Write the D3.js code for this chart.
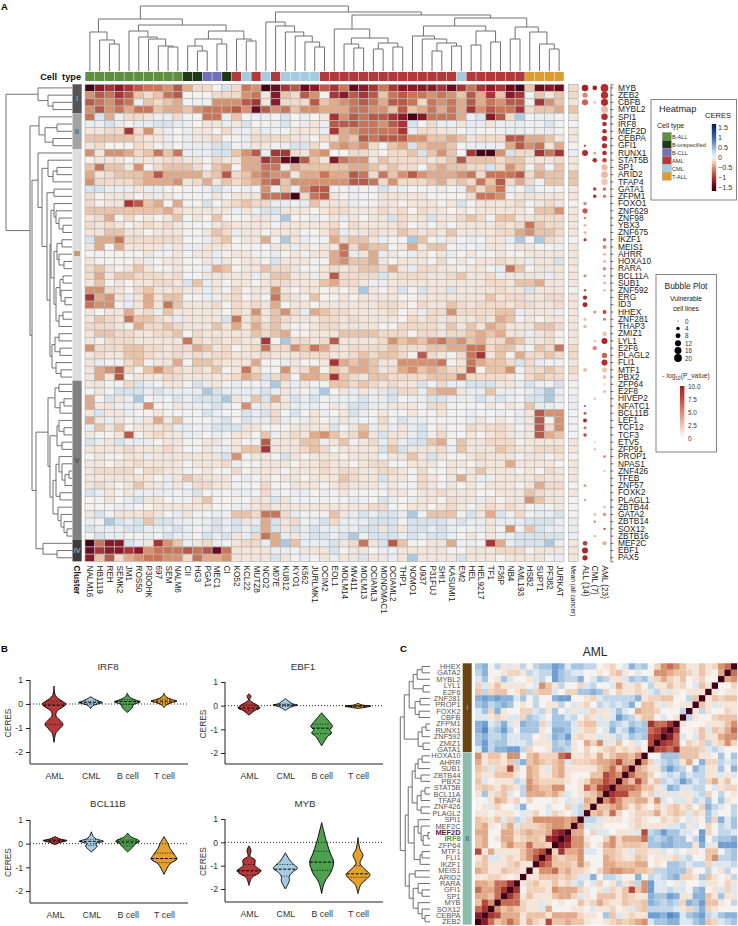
<!DOCTYPE html>
<html><head><meta charset="utf-8">
<script src="https://cdn.jsdelivr.net/npm/d3@7/dist/d3.min.js"></script>
<style>
html,body{margin:0;padding:0;background:#fff}
svg{display:block;font-family:"Liberation Sans",Arial,sans-serif;opacity:.999}
</style></head><body><div id="chart"></div>
<script>
// ---------- DATA ----------
const genes = ["MYB","ZEB2","CBFB","MYBL2","SPI1","IRF8","MEF2D","CEBPA","GFI1","RUNX1","STAT5B","SP1","ARID2","TFAP4","GATA1","ZFPM1","FOXO1","ZNF629","ZNF98","YBX3","ZNF675","IKZF1","MEIS1","AHRR","HOXA10","RARA","BCL11A","SUB1","ZNF592","ERG","ID3","HHEX","ZNF281","THAP3","ZMIZ1","LYL1","E2F6","PLAGL2","FLI1","MTF1","PBX2","ZFP64","E2F8","HIVEP2","NFATC1","BCL11B","LEF1","TCF12","TCF3","ETV5","ZFP91","PROP1","NPAS1","ZNF426","TFEB","ZNF57","FOXK2","PLAGL1","ZBTB44","GATA2","ZBTB14","SOX12","ZBTB16","MEF2C","EBF1","PAX5"];
const cellLines = ["NALM16","HB1119","REH","SEMK2","JM1","ROS50","P30OHK","697","SEM","NALM6","CII","HG3","PGA1","MEC1","CI","KO52","KCL22","MUTZ8","NCO2","M07E","KU812","KYO1","K562","JURLMK1","OCIM2","EOL1","MOLM14","MV411","MOLM13","OCIAML3","MONOMAC1","OCIAML2","THP1","NOMO1","U937","P31FUJ","SHI1","KASUMI1","EM2","HEL","HEL9217","TF1","F36P","NB4","AML193","HSB2","SUPT1","PF382","JURKAT"];
const cellLineTypes = ["B-ALL","B-ALL","B-ALL","B-ALL","B-ALL","B-ALL","B-ALL","B-ALL","B-ALL","B-ALL","B-unspecified","B-unspecified","B-CLL","B-CLL","B-unspecified","AML","CML","AML","CML","AML","CML","CML","CML","CML","AML","AML","AML","AML","AML","AML","AML","AML","AML","AML","AML","AML","AML","AML","CML","AML","AML","AML","AML","AML","AML","T-ALL","T-ALL","T-ALL","T-ALL"];
const typeNames = ["B-ALL","B-unspecified","B-CLL","AML","CML","T-ALL"];
const typeColors = ["#5f8f40","#1f3a16","#7370b8","#b03a3c","#a5cbe0","#dc9c2e"];
// CERES per cell, one letter per cell line: see ceresCodes / ceresValues
const ceresCodes  = ["0","1","2","3","4","5","6","7","8","9","x","y","a","b","c","d","e"];
const ceresValues = [0,-0.1,-0.2,-0.3,-0.4,-0.5,-0.65,-0.8,-1,-1.2,-1.35,-1.55,0.03,0.1,0.2,0.4,0.6];
const ceresRows = [
"y9898 76657 4220c 265yx 87x97 86x98 68999 98x86 898xy 3x9x",
"57687 32367 00022 25619 32750 89787 36766 56537 48398 a313",
"76576 b3234 aaa55 57819 22273 45676 47762 65647 46577 0853",
"57564 66344 35666 75x75 63554 44665 53734 64648 57668 2334",
"6c4b2 21bb2 a066b 30bb0 c0b01 85767 789y9 6664b c972d abba",
"bbcb0 bbccb b011b 1c0ab cab1b 77766 578ca 2bb1b b1bbb aaca",
"11228 251b0 b1102 bb1ba a111b 84566 668b2 2110b 00abb abba",
"33333 211b0 b1120 0b222 21102 24376 77755 33431 22277 4431",
"12a00 21ab0 bbbcc ab11a bcc2a 45452 a34c3 443ab bbb47 5614",
"51554 23636 bbbcc 357b8 82145 00221 0223c 35308 yy5c2 2868",
"01110 11122 11021 14487 xy731 96551 32222 12373 33233 1112",
"36331 50233 32034 04466 14333 33443 2322a 34332 2c253 a3a3",
"41233 34744 44237 23565 51446 44762 63575 44456 26667 2433",
"52222 34445 12413 23467 35555 55776 25222 34232 63724 2a33",
"ccbbb 1bba0 aabcb aba5b 3b577 aab0a cbbaa ab0b4 246ba caaa",
"20111 01b1a aaa1a 11166 7y267 10ba0 11111 00002 66501 1111",
"20118 734a4 00c01 2322b bab31 11baa 11011 101c0 11112 a121",
"33333 33342 11111 b1bcc 11101 22111 21202 11010 11111 a335",
"12402 01013 a103a 0a11b d00ba 1b101 1c211 c1123 2a331 1222",
"2121a 12121 aaa12 1111a 11111 20211 11201 01011 11212 6322",
"11331 10111 a0132 b11a1 11001 3b112 11321 21311 11224 5332",
"c4462 22222 aab23 a114a d1baa 42331 baad3 ab1ab a11bd ad21",
"14041 111b1 bb111 0a0a1 1b1a1 16243 3a141 33aba b11a1 1aab",
"00000 01aa1 a11b0 11aab 01a11 46b14 b10b1 01b01 a01a0 1111",
"10000 1b011 001b1 011ac 111aa 45334 10111 02a1a 11211 b11c",
"23101 31001 00b43 01132 21001 21233 241b2 211a1 1ab63 0111",
"24133 22212 aa111 11b13 311b1 72222 c1222 11231 12b11 11b1",
"13010 11221 c3b1a 11012 21113 4221b b1111 11111 12213 3411",
"55210 23112 11b1a 20115 10110 101d1 01c0c 11c11 11211 c111",
"8451b 14133 00bb1 20106 21030 01011 11001 11111 13122 1122",
"6550b 14163 11120 21214 01101 11111 22102 11321 22212 2112",
"10114 12b31 11110 21513 52b43 22111 1201b 22522 2233b 111b",
"13216 3321b 1111c 61313 21112 21211 11021 21211 2143a 1011",
"22210 42232 11131 41423 10012 21111 00222 21313 14311 1332",
"13322 11223 02111 11323 40011 13333 22202 21223 43411 b120",
"10222 11111 62121 21180 d2212 71111 25343 56453 42243 1120",
"52223 32212 24312 01262 25364 21222 23222 33446 62331 a326",
"12113 32112 12122 11121 11222 11232 33207 21a26 81304 2232",
"1b002 30114 03321 11400 b1001 84343 11555 56a16 4332c 2baa",
"14572 03532 12130 16200 51240 32443 12453 43227 0335a 2232",
"14170 11122 11111 243c2 30443 83213 32222 33362 22210 2322",
"11aa2 cba11 acb1a baabd 1b1aa 33232 1211c a2bbc cc11b cbac",
"a10cc cbcbb bbdcb bbbcb 1b0bd 01b1b 1c22b 3441b b3bb0 bcdb",
"40c1b d0bac bcccd 1b3c4 1cbca bbbcb bcabb ccbbb cbcba ccdb",
"411bb b50a1 bbbcb 05b11 1bbba 1bccb b111a 22a0a a1a10 3bba",
"1c11b a01aa 0acba 0cbc2 aca1b 01cba 1aa1a a1aab aabab 1755",
"41b10 b1413 aa0bc 0cbb2 bab1a b1baa 2acbb aaaab 1a1ab 1705",
"b3130 1112b babcc c1100 01111 c013b 1b1bc 01a02 1221a 1725",
"10017 01211 bb0ba 1103b 12145 31241 c11bc a2aa1 0121b 1743",
"cb1cb bb011 aa11a 10a71 1133b 13a12 b2bcc 34a31 1222a 1111",
"11112 11121 aa1bb 13381 11232 a1111 c3c11 12b31 11321 1222",
"01a01 1b111 1111c 5a11a c1011 10111 a1131 c1001 21110 1101",
"11011 21111 01112 b0a11 10112 11012 2a011 10110 11141 1110",
"12222 02211 a010a 2a111 a1112 12211 221a2 00101 31110 1021",
"11111 11ab1 32111 aba10 11011 13211 c11a2 10141 bb111 1211",
"12101 311b1 a2211 aaa2a 0111a 12111 b1aa2 1a101 a111a 1422",
"cb101 bbbba bcaaa bba2b abb0b a1aaa a1101 12111 00111 3211",
"0010b c110a a13a0 a011c 1aaaa aaba0 cb0b1 10211 b1011 5311",
"000bb 00111 1110a bb121 11111 11112 2a011 0121a 12121 0ba1",
"1c011 121ab 1aaba 33266 2baaa 31bcb ccbda 3330c 14ca2 abbc",
"b0dcb c3ccb babcb c1b4c 12abc 2bbbc ccacc ccbcb b1bbb cccb",
"cbbbc cbbbc babcb cbc4c 1cbcb bbbcc 1c1cc bcbaa b1a5a 3cbb",
"0cbba abacb bacbc 1b264 b1bcc bcdbc ccbcb ccba1 a1bbc cccc",
"y699c b1853 b12ba 122b4 d3bbb c1261 c73a0 114ab a84bc ccdb",
"x8998 95666 767x6 1111b ba111 c0110 bb111 11001 11222 a111",
"93724 56655 26445 1111c 1aba1 b11c1 1b1d1 111c1 11a11 11ab"
].map(s => s.replace(/ /g,""));
const meanCeres = "221310 11ab11 3311 01111 a1111 11a11 11111 22121 aabba aaa11 01 11a 1aaab bb111".replace(/ /g,"");
const clusterNames = ["I","II","III","V","IV"];
const clusterFirstRow = [0,4,9,41,63];
const clusterLastRow = [3,8,40,62,65];
const clusterColors = ["#555555","#a3a3a3","#dedede","#808080","#3c3c3c"];
const clusterTextColors = ["#ccc","#333","#333","#333","#ccc"];
// bubble plot: [gene, vulnerable cell lines, -log10 p]
const bubblesALL = [["MYB",14,10],["ZEB2",9,5],["CBFB",12,6.5],["GFI1",2,6.5],["RUNX1",12,9],["FOXO1",4,5],["ZNF629",9,7],["ZNF98",2,5],["YBX3",3,3],["ZNF675",3,3],["IKZF1",3,9],["BCL11A",3,5],["ZNF592",2,7],["ERG",6,9.5],["ID3",8,9.5],["ZNF281",3,3],["THAP3",4,3],["MTF1",5,3],["NFATC1",1.5,7],["BCL11B",3,6.5],["LEF1",5,9.5],["TCF12",3,6],["TCF3",4,7.5],["NPAS1",0.2,3],["TFEB",0.15,2],["ZNF57",3,4],["PLAGL1",1.6,4.5],["MEF2C",7,8],["EBF1",12,9.5],["PAX5",9,9.5]];
const bubblesCML = [["MYB",7,10],["CBFB",3,2.5],["RUNX1",3,4],["STAT5B",7,9],["GATA1",4,8],["ZFPM1",4,9],["ZNF592",0.3,2],["HHEX",2.5,5],["LYL1",2,3],["E2F6",6,5],["HIVEP2",1.8,2.5],["ETV5",1.3,2.5],["ZFP91",1.3,4],["GATA2",2.2,3],["ZBTB14",1.6,6],["ZBTB16",1.6,4]];
const bubblesAML = [["MYB",20,9],["ZEB2",17,9],["CBFB",17,9],["MYBL2",17,3],["SPI1",14,9],["IRF8",7,9],["MEF2D",7,9],["CEBPA",10,9],["GFI1",9,9],["RUNX1",7,9],["STAT5B",7,7.5],["SP1",13,3],["ARID2",15,3],["TFAP4",14,2.5],["GATA1",4,6],["ZFPM1",4,5.5],["IKZF1",4,6.5],["MEIS1",5,5],["AHRR",3,3],["HOXA10",3,3],["RARA",4,5],["BCL11A",1.5,6],["SUB1",3,3],["ZNF592",2,3],["HHEX",5,8],["ZNF281",3,5.5],["ZMIZ1",7,2.5],["LYL1",12,9.5],["PLAGL2",9,6.5],["FLI1",12,9],["MTF1",9,2.5],["PBX2",5,2.8],["ZFP64",1.5,2.5],["E2F8",3,3],["PROP1",2,6],["ZNF426",2,2.5],["FOXK2",0.2,3],["ZBTB44",1.6,4],["GATA2",4,4.5],["SOX12",2,7],["MEF2C",6,3.5]];
const sizeLegendValues = [0,4,8,12,16,20];
const ceresLegendTicks = [1.5,1,0.5,0,-0.5,-1,-1.5];
const pLegendTicks = [10,7.5,5,2.5,0];
// dendrograms: [height, left, right]; a plain number is a leaf index
const colTree = [65,[52,[39,0,[31,1,[27,2,3]]],[46,[40,4,[34,5,[32,6,[25,7,[24,8,9]]]]],[40,[32,[25,10,[20,11,12]],[27,13,14]],[32,15,[30,16,17]]]]],
 [59,[49,18,[45,19,[39,20,[35,21,[29,22,[24,23,24]]]]]],
  [56,[42,25,[33,[27,26,[23,27,28]],[28,[22,29,30],[24,31,32]]]],
   [53,[45,[35,33,[32,34,[28,[20,35,36],[25,37,38]]]],[40,[26,39,40],[29,41,42]]],[44,[32,43,44],[39,45,[27,46,[22,47,48]]]]]]]];
const rowClusterI = [34,0,[24,1,[19,2,3]]];
const rowClusterII = [33,4,[27,[15,5,6],[19,7,8]]];
const rowClusterIII = [34,9,[30,[24,10,[19,[15,11,12],13]],[25,[18,14,15],[22,[21,[18,16,[16,17,[13,18,[9,19,20]]]],[18,[15,[10,21,22],[13,23,[8,24,25]]],[16,[12,[9,26,27],[11,28,[7,29,30]]],[13,[9,31,32],33]]]],[20,[17,[13,34,35],[12,36,37]],[16,38,[11,39,40]]]]]]];
const rowClusterV = [24,[17,[13,41,42],[12,[8,43,44],45]],[22,[15,[13,46,[8,47,48]],[10,49,50]],[19,[16,[13,51,[10,52,[7,[3,53,54],55]]],[12,56,57]],[14,58,[11,59,[8,60,[5,61,62]]]]]]];
const rowClusterIV = [29,63,[15,64,65]];
const rowTree = [66,rowClusterI,[42,rowClusterII,[40,rowClusterIII,[36,rowClusterV,rowClusterIV]]]];
// panel B
const violinCats = ["AML","CML","B cell","T cell"];
const violinColors = ["#b5393b","#a6cbe0","#4ea04f","#e4a12b"];
const violinTitles = ["IRF8","EBF1","BCL11B","MYB"];
const irf8Shapes = [
 [[.75,0],[.35,1.5],[.12,8],[0,12],[-.12,9],[-.3,3],[-.5,2],[-.68,6],[-.85,9],[-1.02,6],[-1.2,2],[-1.6,0]],
 [[.3,0],[.2,4],[.12,8],[.06,12],[0,7],[-.08,2],[-.2,0]],
 [[.45,0],[.3,2],[.17,8],[.09,13],[-.03,6],[-.15,5],[-.35,0]],
 [[.45,0],[.3,2],[.2,7],[.12,13],[.05,7],[-.05,2],[-.15,0]]];
const ebf1Shapes = [
 [[.5,0],[.4,2],[.25,.6],[.15,3],[0,9],[-.1,11],[-.2,6],[-.4,0]],
 [[.3,0],[.2,3],[.08,7],[.03,12],[-.05,6],[-.2,0]],
 [[-.3,0],[-.5,4],[-.7,8],[-.88,11],[-1.02,8],[-1.15,10],[-1.3,6],[-1.7,0]],
 [[.1,0],[.03,4],[-.02,13],[-.05,10],[-.12,0]]];
const bcl11bShapes = [
 [[.3,0],[.2,5],[.13,12],[.05,5],[-.05,0]],
 [[.5,0],[.3,2],[.2,5],[.1,12],[0,4],[-.1,6],[-.2,4],[-.35,0]],
 [[.45,0],[.3,3],[.1,12],[0,8],[-.1,6],[-.35,0]],
 [[.3,0],[0,4],[-.2,6],[-.5,11],[-.65,13],[-.85,6],[-1.3,0]]];
const mybShapes = [
 [[-.15,0],[-.35,2],[-.6,1],[-.75,6],[-1,6],[-1.22,12],[-1.35,9],[-1.5,3],[-1.85,0]],
 [[-.45,0],[-.8,5],[-1.12,12],[-1.25,8],[-1.45,4],[-1.65,4],[-2,0]],
 [[.85,0],[.5,2],[0,5],[-.5,9],[-.85,12],[-1.3,9],[-1.7,3],[-2.2,0]],
 [[.2,0],[-.3,2],[-.55,5],[-.9,2],[-1.2,8],[-1.38,12],[-1.6,8],[-1.8,3],[-2.2,0]]];
const violinShapes = [irf8Shapes,ebf1Shapes,bcl11bShapes,mybShapes];
const violinQuartiles = [
 [[.12,-.05,-.85],[.12,.07,0],[.17,.1,-.02],[.2,.12,.05]],
 [[.03,-.1,-.2],[.07,.03,-.02],[-.78,-.95,-1.18],[0,-.02,-.05]],
 [[.17,.12,.07],[.18,.1,-.07],[.15,.07,-.1],[-.4,-.63,-.8]],
 [[-.95,-1.22,-1.4],[-.95,-1.15,-1.45],[-.38,-.85,-1.2],[-1,-1.35,-1.5]]];
// panel C
const corrGenes = ["HHEX","GATA2","MYBL2","LYL1","E2F6","ZNF281","PROP1","FOXK2","CBFB","ZFPM1","RUNX1","ZNF592","ZMIZ1","GATA1","HOXA10","AHRR","SUB1","ZBTB44","PBX2","STAT5B","BCL11A","TFAP4","ZNF426","PLAGL2","SPI1","MEF2C","MEF2D","IRF8","ZFP64","MTF1","FLI1","IKZF1","MEIS1","ARID2","RARA","GFI1","SP1","MYB","SOX12","CEBPA","ZEB2"];
const corrCodes  = ["0","1","2","3","4","5","6","7","8","9","a","b","c","d","e","f"];
const corrValues = [0,.1,.2,.3,.4,.5,.6,.7,.8,.92,-.1,-.2,-.3,-.4,-.5,-.6];
const corrTriangle = [
"cd0b1 a1b0b cceda ccbb0 120ad bc025 65311 31256",
"bd001 221ba bbecb aa001 02310 a0055 43321 3104",
"ac01c a001a b0ecb bd0ac b11ac bca24 21301 200",
"2a131 1110a 531b0 02ab0 0a411 20b11 3120a 31",
"3b233 013b2 33a02 2ccdc 20211 21ab1 a1011 1",
"deded dac0b 00dee 0012a bbbbb d1223 300b3",
"cdbcd c010b 011b0 a120b ababd 0331a 1011",
"ac2d1 0022a b1c0a 1aa21 1aca0 43320 00b",
"aa121 aa2cb a0cca b021a 1aecb 1330a 01",
"deabd a1dcc 2accc a233a acbac bc866 8",
"dfbce b0ccc 10ddc a1220 adabe cc679",
"cdbbc aabb0 1adce 1211a 1abac bc78",
"cebcc aaab1 11cbc 10425 a1301 a07",
"aebdd eeb20 01ccb 10201 23121 20",
"51331 55034 22267 11214 13443 5",
"41221 3bd34 3234a 22234 45744",
"32a22 72043 1a341 11113 4636",
"21133 31043 11341 00033 765",
"3a011 1ba53 22221 01255 76",
"23213 21b54 33550 01647 8",
"1c123 a0b44 4342a 01235",
"00143 12020 0010a 1a43",
"01a20 0ad00 0a002 ab3",
"11011 10a12 0a210 ab",
"3213a 2ba25 55554 5",
"34102 4a222 34554",
"44004 42343 3489",
"34014 41233 289",
"34003 53363 32",
"71411 11356 7",
"13aa1 21357",
"23111 23116",
"43113 221",
"11221 01",
"44366 8",
"64468",
"4436",
"375",
"68",
"9",
""
].map(s => s.replace(/ /g,""));
const corrClusterEnd = 13;
const corrClusterNames = ["I","II"];
const corrClusterColors = ["#6b4412","#8bbeaa"];
const corrTree = [30,[26,[21,[17,[13,[8,0,1],2],[7,3,4]],[15,[10,5,6],[11,7,8]]],[12,[8,[4,9,10],11],[7,12,13]]],
 [25,[22,[18,[15,[12,[8,14,15],16],[9,17,18]],[13,[9,[5,19,20],21],[9,22,23]]],[16,[12,24,[9,25,[7,[2,26,27],28]]],[10,[8,29,30],31]]],[21,[15,32,33],[17,[12,34,[8,35,36]],[12,37,[8,38,[5,39,40]]]]]]];

// ---------- DRAWING ----------
const W=738,H=926,FONT='"Liberation Sans",Arial,sans-serif';
const svg=d3.select("#chart").append("svg").attr("width",W).attr("height",H).attr("viewBox",[0,0,W,H]);
const txt=(g,x,y,s,size,opt={})=>{const t=g.append("text").attr("x",x).attr("y",y).attr("font-size",size).attr("fill",opt.fill||"#222")
  .attr("text-anchor",opt.anchor||"start").attr("font-weight",opt.weight||"normal").text(s);
  if(opt.baseline)t.attr("dominant-baseline",opt.baseline);
  if(opt.rotate!==undefined)t.attr("transform",`rotate(${opt.rotate} ${x} ${y})`);return t;};

const heatX=d3.scaleBand().domain(cellLines).range([85,564]).paddingInner(0);
const heatY=d3.scaleBand().domain(genes).range([84.3,561.4]);
const ceresOf=c=>{const i=ceresCodes.indexOf(c);return i<0?0:ceresValues[i];};
const ceresColor=d3.scaleLinear()
 .domain([-1.6,-1.35,-1.2,-1,-.8,-.65,-.5,-.4,-.3,-.2,-.1,-.02,.03,.1,.2,.4,.6,1,1.5])
 .range(["#3a0016","#6b0b20","#8a1a28","#a83535","#b85a48","#c87558","#d6916e","#e2aa88","#ebc4a8","#f2d9c8","#f4e5db","#f5f1ee","#f2f1f1","#e9edf1","#d7e3ed","#abc9e0","#7aa7d0","#3567ad","#0f2a6a"]);
const pColor=d3.scaleLinear().domain([0,2.5,5,7.5,10]).range(["#fff","#f0c6b4","#d98a74","#c2483f","#a81c22"]);
const sizeR=d3.scaleSqrt().domain([0,20]).range([0,3.9]);
const gridCol="#b6b6b6";

// A: heat map
const heat=svg.append("g");
ceresRows.forEach((row,r)=>{
  heat.append("g").selectAll("rect").data(cellLines).join("rect")
   .attr("x",d=>heatX(d)).attr("y",heatY(genes[r])).attr("width",heatX.bandwidth()).attr("height",heatY.bandwidth())
   .attr("fill",(d,i)=>ceresColor(ceresOf(row[i]))).attr("stroke",gridCol).attr("stroke-width",.7);
});
// cell type strip
svg.append("g").selectAll("rect").data(cellLines).join("rect")
 .attr("x",d=>heatX(d)+.25).attr("y",72).attr("width",heatX.bandwidth()-.5).attr("height",9)
 .attr("fill",(d,i)=>typeColors[typeNames.indexOf(cellLineTypes[i])]);
txt(svg,81,79.5,"Cell  type",9.2,{anchor:"end",weight:"bold",fill:"#111"}).style("white-space","pre");
// column labels
svg.append("g").selectAll("text").data(cellLines).join("text")
 .attr("transform",d=>`translate(${heatX(d)+heatX.bandwidth()/2},565.5) rotate(90)`).attr("dominant-baseline","central")
 .attr("font-size",8.2).attr("fill","#222").text(d=>d);
txt(svg,77,565.5,"Cluster",8.4,{weight:"bold",fill:"#111",rotate:90,baseline:"central"});
// cluster bar
clusterNames.forEach((n,i)=>{
  const y0=heatY(genes[clusterFirstRow[i]]),y1=heatY(genes[clusterLastRow[i]])+heatY.bandwidth();
  svg.append("rect").attr("x",72.5).attr("y",y0).attr("width",9.2).attr("height",y1-y0).attr("fill",clusterColors[i]);
  txt(svg,77,n==="III"?253:(y0+y1)/2,n,7,{anchor:"middle",baseline:"central",fill:clusterTextColors[i]});
});
// mean column
svg.append("g").selectAll("rect").data(genes).join("rect")
 .attr("x",568.5).attr("y",d=>heatY(d)).attr("width",9.6).attr("height",heatY.bandwidth())
 .attr("fill",(d,i)=>ceresColor(ceresOf(meanCeres[i]))).attr("stroke",gridCol).attr("stroke-width",.7);
txt(svg,573.3,565.5,"Mean (all cancer)",6.6,{rotate:90,baseline:"central"});
// bubbles
const bubbleGroups=[["ALL (14)",bubblesALL],["CML (7)",bubblesCML],["AML (23)",bubblesAML]];
const bubbleX=d3.scalePoint().domain(bubbleGroups.map(d=>d[0])).range([585,604.5]);
bubbleGroups.forEach(([name,list])=>{
  svg.append("g").selectAll("circle").data(list).join("circle")
   .attr("cx",bubbleX(name)).attr("cy",d=>heatY(d[0])+heatY.bandwidth()/2).attr("r",d=>sizeR(d[1])).attr("fill",d=>pColor(d[2]));
  txt(svg,bubbleX(name),565.5,name,8.2,{rotate:90,baseline:"central"});
});
// gene axis
const geneAxis=svg.append("g").attr("transform","translate(610.5,0)").call(d3.axisRight(heatY).tickSize(3).tickPadding(4.5));
geneAxis.selectAll("text").attr("font-size",8.4).attr("font-family",FONT).attr("fill","#222");
geneAxis.selectAll("line,path").attr("stroke","#333").attr("stroke-width",.7);

// dendrograms
function dendro(g,tree,leafPos,hPos,horizontalLeaves,color){
  const segs=[];
  const walk=n=>{
    if(typeof n==="number")return{p:leafPos(n),h:0};
    const a=walk(n[1]),b=walk(n[2]);
    if(horizontalLeaves){
      segs.push(`M${a.p},${hPos(a.h)}V${hPos(n[0])}H${b.p}V${hPos(b.h)}`);
    }else{
      segs.push(`M${hPos(a.h)},${a.p}H${hPos(n[0])}V${b.p}H${hPos(b.h)}`);
    }
    return{p:(a.p+b.p)/2,h:n[0]};
  };
  walk(tree);
  g.append("g").selectAll("path").data(segs).join("path").attr("d",d=>d).attr("fill","none").attr("stroke",color).attr("stroke-width",.95);
}
dendro(svg,colTree,i=>heatX(cellLines[i])+heatX.bandwidth()/2,d3.scaleLinear().domain([0,65]).range([71,6]),true,"#6a6a6a");
dendro(svg,rowTree,i=>heatY(genes[i])+heatY.bandwidth()/2,d3.scaleLinear().domain([0,66]).range([72,6]),false,"#6a6a6a");

// heatmap legend
const lg=svg.append("g");
lg.append("rect").attr("x",651).attr("y",99.5).attr("width",85.5).attr("height",100.5).attr("fill","#fff").attr("stroke","#777").attr("stroke-width",.9);
txt(lg,659,112,"Heatmap",9.2);
txt(lg,705,118,"CERES",7.6);
txt(lg,657,128,"Cell type",7);
typeNames.forEach((n,i)=>{
  lg.append("rect").attr("x",662.2).attr("y",132.3+8*i).attr("width",9.2).attr("height",8).attr("fill",typeColors[i]).attr("stroke","#aaa").attr("stroke-width",.4);
  txt(lg,672,138.5+8*i,n,5.6,{fill:"#333"});
});
const defs=svg.append("defs");
const cg=defs.append("linearGradient").attr("id","ceresGrad").attr("x1",0).attr("y1",0).attr("x2",0).attr("y2",1);
const barCeres=d3.scaleLinear().domain([1.65,-1.65]).range([124,191]);
d3.range(0,1.001,.05).forEach(t=>cg.append("stop").attr("offset",t).attr("stop-color",ceresColor(barCeres.invert(124+67*t))));
lg.append("rect").attr("x",711.8).attr("y",124).attr("width",4.4).attr("height",67).attr("fill","url(#ceresGrad)");
ceresLegendTicks.forEach(t=>txt(lg,718,barCeres(t),t<0?"−"+Math.abs(t):t,7.2,{baseline:"central",fill:"#333"}));

// bubble legend
const lb=svg.append("g");
lb.append("rect").attr("x",656).attr("y",274.5).attr("width",60.5).attr("height",177.5).attr("fill","#fff").attr("stroke","#777").attr("stroke-width",.9);
txt(lb,686,289,"Bubble Plot",8.4,{anchor:"middle"});
txt(lb,686,301,"Vulnerable",6.8,{anchor:"middle"});
txt(lb,686,310.5,"cell lines",6.8,{anchor:"middle"});
const sizeY=d3.scalePoint().domain(sizeLegendValues).range([321,358]);
sizeLegendValues.forEach(v=>{
  lb.append("circle").attr("cx",678).attr("cy",sizeY(v)).attr("r",Math.max(sizeR(v),.5)).attr("fill","#000");
  txt(lb,685,sizeY(v),v,6.4,{baseline:"central",fill:"#333"});
});
const pt=txt(lb,686,378,"",6.8,{anchor:"middle",fill:"#333"});
pt.append("tspan").text("- log");
pt.append("tspan").text("10").attr("font-size",4.6).attr("dy",1.6);
pt.append("tspan").text("(P_value)").attr("dy",-1.6);
const pg=defs.append("linearGradient").attr("id","pGrad").attr("x1",0).attr("y1",1).attr("x2",0).attr("y2",0);
d3.range(0,1.001,.1).forEach(t=>pg.append("stop").attr("offset",t).attr("stop-color",pColor(10*t)));
const barP=d3.scaleLinear().domain([0,10]).range([438,386]);
lb.append("rect").attr("x",680).attr("y",386).attr("width",4.4).attr("height",52).attr("fill","url(#pGrad)");
pLegendTicks.forEach(v=>txt(lb,688,barP(v),v===0?"0":v.toFixed(1),6.4,{baseline:"central",fill:"#333"}));

// panel letters
txt(svg,1,9.5,"A",9.5,{weight:"bold",fill:"#000"});
txt(svg,1,652,"B",9.5,{weight:"bold",fill:"#000"});
txt(svg,400,652,"C",9.5,{weight:"bold",fill:"#000"});

// B: violins
const panelX=[[54,164],[249,358],[55,164],[249,358]];
const panelAxisX=[30,225,30,225];
const panelEnd=[188,383,188,383];
const panelY=[[680,752],[682,753],[820,891],[819,889]];
const panelBottom=[764,764,903,902];
const titleX=[108,303,108,305];
const titleY=[667,667,804,804];
violinTitles.forEach((title,pi)=>{
  const g=svg.append("g");
  const x=d3.scalePoint().domain(violinCats).range(panelX[pi]);
  const y=d3.scaleLinear().domain([1,-2]).range(panelY[pi]);
  txt(g,titleX[pi],titleY[pi]+3,title,9.8,{anchor:"middle",fill:"#333"});
  txt(g,panelAxisX[pi]-22,(panelY[pi][0]+panelBottom[pi])/2+1,"CERES",8.4,{anchor:"middle",baseline:"central",rotate:-90,fill:"#333"});
  violinShapes[pi].forEach((shape,ci)=>{
    const cx=x(violinCats[ci]);
    const area=d3.area().y(d=>y(d[0])).x0(d=>cx-d[1]).x1(d=>cx+d[1]).curve(d3.curveCatmullRom.alpha(.5));
    g.append("path").attr("d",area(shape)).attr("fill",violinColors[ci]).attr("stroke","#000").attr("stroke-width",.9);
    const widthAt=v=>{for(let k=0;k<shape.length-1;k++){if(v<=shape[k][0]&&v>=shape[k+1][0]){const t=(shape[k][0]-v)/(shape[k][0]-shape[k+1][0]);return shape[k][1]+t*(shape[k+1][1]-shape[k][1]);}}return 0;};
    violinQuartiles[pi][ci].forEach((q,qi)=>{
      const w=widthAt(q);
      g.append("line").attr("x1",cx-w).attr("x2",cx+w).attr("y1",y(q)).attr("y2",y(q)).attr("stroke","#000")
       .attr("stroke-width",qi===1?1:.8).attr("stroke-dasharray",qi===1?"3,1.5":"1,1.5");
    });
  });
  g.append("line").attr("x1",panelAxisX[pi]).attr("x2",panelEnd[pi]).attr("y1",y(0)).attr("y2",y(0)).attr("stroke","#111").attr("stroke-width",.9).attr("stroke-dasharray","1,2");
  const ya=g.append("g").attr("transform",`translate(${panelAxisX[pi]},0)`).call(d3.axisLeft(y).tickValues([1,0,-1,-2]).tickFormat(d=>d).tickSize(4).tickPadding(3));
  ya.select("path").attr("d",`M0,${y(1)}V${panelBottom[pi]}`).attr("stroke","#222").attr("stroke-width",1);
  ya.selectAll("line").attr("stroke","#222").attr("stroke-width",1);
  ya.selectAll("text").attr("font-size",8.6).attr("font-family",FONT).attr("fill","#333");
  const xa=g.append("g").attr("transform",`translate(0,${panelBottom[pi]})`).call(d3.axisBottom(x).tickSize(0).tickPadding(9));
  xa.select("path").attr("d",`M${panelAxisX[pi]},0H${panelEnd[pi]}`).attr("stroke","#222").attr("stroke-width",1);
  xa.selectAll("text").attr("font-size",8.8).attr("font-family",FONT).attr("fill","#333");
});

// C: correlation
txt(svg,595,656,"AML",12,{anchor:"middle",fill:"#222"});
const corrRow=d3.scaleBand().domain(corrGenes).range([663.3,925]);
const corrCol=d3.scaleBand().domain(corrGenes.slice().reverse()).range([475,737]);
const corrColor=d3.scaleLinear().domain([-.7,-.5,-.3,-.1,0,.1,.3,.5,.7,.92,1])
 .range(["#3b74b8","#6f9fd0","#a5c5e0","#dde7f0","#f6f2ef","#f5e5d9","#ecc3a6","#d6916e","#b5493c","#8a1a28","#3e0016"]);
const corrAt=(a,b)=>{ if(a===b)return 1; const lo=Math.min(a,b),hi=Math.max(a,b); const s=corrTriangle[lo]||""; const c=s[40-hi]; const i=corrCodes.indexOf(c); return i<0?0:corrValues[i]; };
const corrCells=[];
corrGenes.forEach((a,i)=>corrGenes.forEach((b,j)=>corrCells.push({a,b,v:corrAt(i,j)})));
svg.append("g").selectAll("rect").data(corrCells).join("rect")
 .attr("x",d=>corrCol(d.b)).attr("y",d=>corrRow(d.a)).attr("width",corrCol.bandwidth()+.15).attr("height",corrRow.bandwidth()+.15).attr("fill",d=>corrColor(d.v));
svg.append("g").selectAll("text").data(corrGenes).join("text")
 .attr("x",460.5).attr("y",d=>corrRow(d)+corrRow.bandwidth()/2).attr("dominant-baseline","central").attr("text-anchor","end")
 .attr("font-size",7.4).attr("fill",d=>d==="MEF2D"?"#5a1a3a":d==="IRF8"?"#4e9a3c":"#555").attr("font-weight",d=>d==="MEF2D"||d==="IRF8"?"bold":"normal").text(d=>d);
[[0,corrClusterEnd],[corrClusterEnd+1,corrGenes.length-1]].forEach(([a,b],i)=>{
  const y0=corrRow(corrGenes[a]),y1=corrRow(corrGenes[b])+corrRow.bandwidth();
  svg.append("rect").attr("x",462.7).attr("y",y0).attr("width",9).attr("height",y1-y0-.4).attr("fill",corrClusterColors[i]);
  txt(svg,467.2,(y0+y1)/2,corrClusterNames[i],6.6,{anchor:"middle",baseline:"central",fill:i?"#333":"#c8b89a"});
});
dendro(svg,corrTree,i=>corrRow(corrGenes[i])+corrRow.bandwidth()/2,d3.scaleLinear().domain([0,30]).range([430,400.3]),false,"#666");
</script></body></html>
